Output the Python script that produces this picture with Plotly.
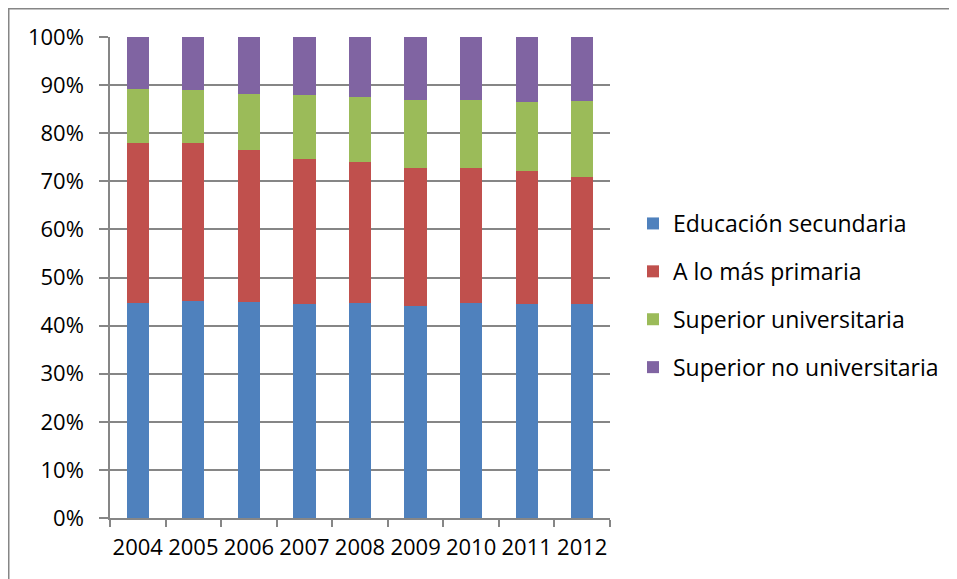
import plotly.graph_objects as go

years = ["2004", "2005", "2006", "2007", "2008", "2009", "2010", "2011", "2012"]
secundaria = [44.6, 45.1, 44.9, 44.5, 44.7, 44.1, 44.8, 44.5, 44.5]
primaria = [33.3, 32.9, 31.6, 30.1, 29.3, 28.7, 28.0, 27.6, 26.3]
sup_univ = [11.2, 10.9, 11.7, 13.4, 13.5, 14.2, 14.0, 14.3, 15.8]
sup_no_univ = [10.9, 11.1, 11.8, 12.0, 12.5, 13.0, 13.2, 13.6, 13.4]

series = [
    ("Educación secundaria", secundaria, "#4F81BD"),
    ("A lo más primaria", primaria, "#C0504D"),
    ("Superior universitaria", sup_univ, "#9BBB59"),
    ("Superior no universitaria", sup_no_univ, "#8064A2"),
]

fig = go.Figure()
for name, vals, col in series:
    fig.add_trace(go.Bar(
        x=years, y=[v / 100 for v in vals], name=name,
        marker=dict(color=col, line=dict(width=0)),
        legendgroup=name,
    ))

# page body has an 8px margin, so the figure is placed at (8, 8)
W, H = 949, 571
L, R, T, B = 102, 602, 29, 510
fig.update_layout(
    width=W, height=H,
    margin=dict(l=L, r=W - R, t=T, b=H - B, pad=0, autoexpand=False),
    barmode="stack", bargap=0.6,
    plot_bgcolor="white", paper_bgcolor="white",
    font=dict(family="Open Sans", size=22, color="#000000"),
    showlegend=True,
    legend=dict(
        x=(625 - L) / (R - L), xanchor="left",
        y=0.4626, yanchor="middle",
        traceorder="grouped", tracegroupgap=15,
        font=dict(family="Open Sans", size=23, color="#000000"),
        bgcolor="rgba(0,0,0,0)",
    ),
    xaxis=dict(
        type="category", tickson="boundaries", ticks="outside", ticklen=7,
        tickcolor="#868686", tickwidth=1.5, tickangle=0, automargin=False,
        showline=True, linecolor="#868686", linewidth=1.5,
        showgrid=False, tickfont=dict(size=22), ticklabelstandoff=9,
    ),
    yaxis=dict(
        range=[0, 1], tickvals=[i / 10 for i in range(11)], tickformat=".0%",
        ticks="outside", ticklen=9, tickcolor="#868686", tickwidth=1.5,
        showline=True, linecolor="#868686", linewidth=1.5, automargin=False,
        showgrid=True, gridcolor="#868686", gridwidth=1.5,
        zeroline=False, tickfont=dict(size=22), ticklabelstandoff=11,
    ),
    shapes=[dict(
        type="rect", xref="paper", yref="paper",
        x0=(0.75 - L) / (R - L), x1=(960 - L) / (R - L),
        y0=-(600 - B) / (B - T), y1=1 + (T - 0.75) / (B - T),
        line=dict(color="#868686", width=1.5), fillcolor="rgba(0,0,0,0)",
        layer="below",
    )],
)

fig.write_html("out.html")
